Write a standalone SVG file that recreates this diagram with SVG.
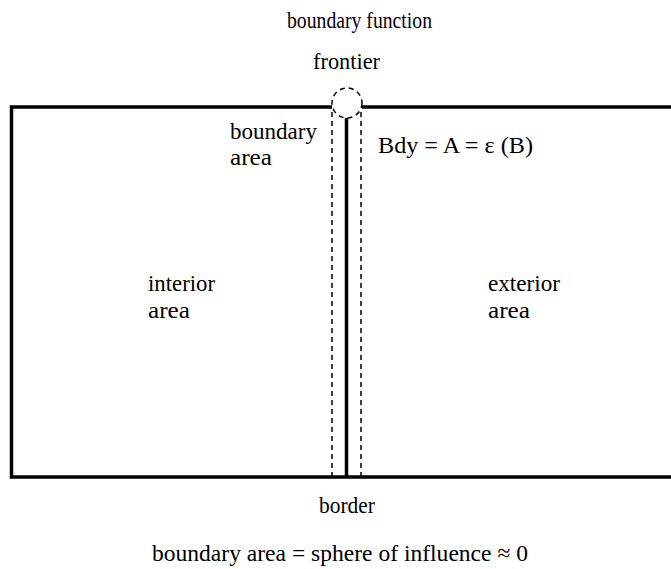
<svg xmlns="http://www.w3.org/2000/svg" width="671" height="569" viewBox="0 0 671 569">
<style>
text{font-family:'Liberation Serif','DejaVu Serif','Times New Roman',serif;font-size:24px;fill:#000}
.thick{stroke:#000;stroke-width:3.5;fill:none}
.dash{stroke:#000;stroke-width:1.5;stroke-dasharray:5 4;fill:none}
</style>
<rect width="671" height="569" fill="#fff"/>
<g id="region">
<path class="thick" d="M332 107 H11.5 V477 H671"/>
<path class="thick" d="M362 107 H671"/>
</g>
<g id="frontier">
<circle cx="347" cy="103" r="15" class="dash" stroke-width="1.2"/>
</g>
<g id="connectors">
<line class="thick" x1="346.5" y1="118" x2="346.5" y2="477"/>
<line class="dash" x1="332" y1="112" x2="332" y2="477"/>
<line class="dash" x1="361" y1="112" x2="361" y2="477"/>
</g>
<g id="labels">
<text x="287" y="28" textLength="145" lengthAdjust="spacingAndGlyphs">boundary function</text>
<text x="313" y="69" textLength="67" lengthAdjust="spacingAndGlyphs">frontier</text>
<text x="230" y="139" textLength="87" lengthAdjust="spacingAndGlyphs">boundary</text>
<text x="230" y="165" textLength="42" lengthAdjust="spacingAndGlyphs">area</text>
<text x="378" y="153" textLength="155" lengthAdjust="spacingAndGlyphs">Bdy = A = ε (B)</text>
<text x="148" y="291" textLength="67" lengthAdjust="spacingAndGlyphs">interior</text>
<text x="148" y="318" textLength="42" lengthAdjust="spacingAndGlyphs">area</text>
<text x="488" y="291" textLength="72" lengthAdjust="spacingAndGlyphs">exterior</text>
<text x="488" y="318" textLength="42" lengthAdjust="spacingAndGlyphs">area</text>
<text x="319" y="513" textLength="56" lengthAdjust="spacingAndGlyphs">border</text>
<text x="152" y="561" textLength="376" lengthAdjust="spacingAndGlyphs">boundary area = sphere of influence ≈ 0</text>
</g>
</svg>
